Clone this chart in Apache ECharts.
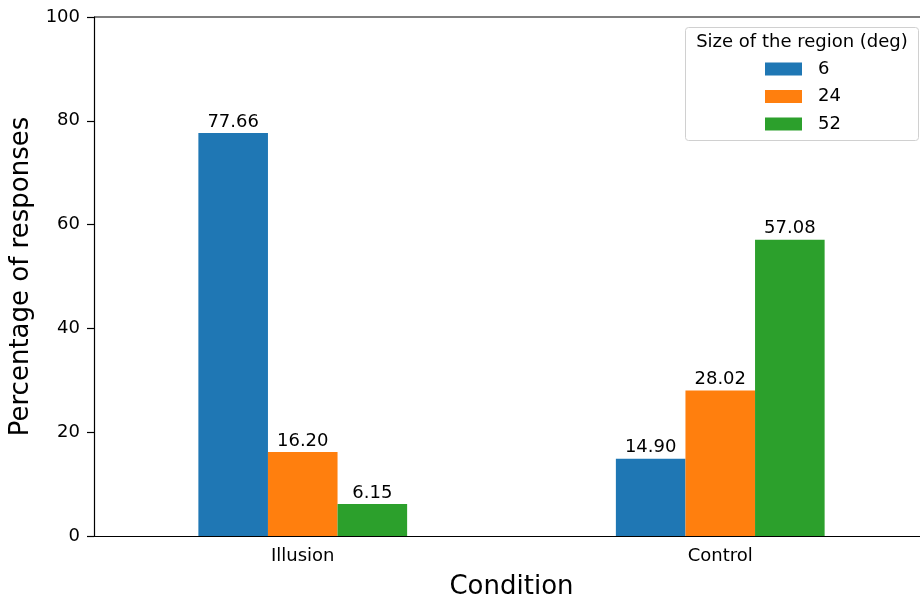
<!DOCTYPE html>
<html>
<head>
<meta charset="utf-8">
<script src="https://cdn.jsdelivr.net/npm/echarts@6/dist/echarts.min.js"></script>
<style>
  html, body { margin: 0; padding: 0; background: #fff; }
  #chart { width: 920px; height: 599px; overflow: hidden; position: relative; }
</style>
</head>
<body>
<div id="chart"></div>
<script>
const conditions = ['Illusion', 'Control'];
const sizes = ['6', '24', '52'];
const size6 = [77.66, 14.90];
const size24 = [16.20, 28.02];
const size52 = [6.15, 57.08];
const colors = ['#1f77b4', '#ff7f0e', '#2ca02c'];

const font = 'DejaVu Sans';
// canvas a little wider than the window so the right spine falls off-screen
const chart = echarts.init(document.getElementById('chart'), null, { renderer: 'canvas', width: 930, height: 599 });

function barSeries(name, values, color) {
  return {
    name: name,
    type: 'bar',
    data: values,
    barGap: '0%',
    barCategoryGap: '50%',
    itemStyle: { color: color },
    label: {
      show: true,
      position: 'top',
      distance: 2,
      color: '#000',
      fontFamily: font,
      fontSize: 18,
      formatter: p => p.value.toFixed(2)
    }
  };
}

chart.setOption({
  animation: false,
  grid: { left: 94, top: 17, right: 1, height: 519, containLabel: false, outerBoundsMode: 'none' },
  xAxis: {
    type: 'category',
    data: conditions,
    name: 'Condition',
    nameLocation: 'middle',
    nameGap: 38,
    nameTextStyle: { fontFamily: font, fontSize: 26, color: '#000' },
    axisLine: { lineStyle: { color: '#000', width: 1.2 } },
    axisTick: { alignWithLabel: true, length: 7, lineStyle: { color: '#000', width: 1.2 } },
    axisLabel: { fontFamily: font, fontSize: 18, color: '#000', margin: 11 }
  },
  yAxis: {
    type: 'value',
    min: 0,
    max: 100,
    interval: 20,
    name: 'Percentage of responses',
    nameLocation: 'middle',
    nameGap: 51,
    nameTextStyle: { fontFamily: font, fontSize: 26, color: '#000' },
    axisLine: { show: true, lineStyle: { color: '#000', width: 1.2 } },
    axisTick: { show: true, length: 7, lineStyle: { color: '#000', width: 1.2 } },
    axisLabel: { fontFamily: font, fontSize: 18, color: '#000', margin: 14 },
    splitLine: { show: false }
  },
  graphic: [
    {
      type: 'line',
      shape: { x1: 94, y1: 17, x2: 930, y2: 17 },
      style: { stroke: '#000', lineWidth: 1.2 }
    },
    {
      type: 'rect',
      shape: { x: 685.5, y: 27.5, width: 233, height: 113, r: 3 },
      style: { fill: '#fff', stroke: '#d0d0d0', lineWidth: 1 },
      z: 10
    },
    {
      type: 'text',
      x: 802,
      y: 42,
      style: {
        text: 'Size of the region (deg)',
        fontFamily: font,
        fontSize: 18,
        fill: '#000',
        align: 'center',
        verticalAlign: 'middle'
      },
      z: 11
    }
  ],
  legend: {
    data: sizes,
    orient: 'vertical',
    left: 765,
    top: 60,
    padding: 0,
    itemWidth: 37,
    itemHeight: 13,
    itemGap: 9.5,
    z: 12,
    textStyle: { fontFamily: font, fontSize: 18, color: '#000', padding: [0, 0, 0, 11] },
    icon: 'rect'
  },
  series: [
    barSeries(sizes[0], size6, colors[0]),
    barSeries(sizes[1], size24, colors[1]),
    barSeries(sizes[2], size52, colors[2])
  ]
});
</script>
</body>
</html>
